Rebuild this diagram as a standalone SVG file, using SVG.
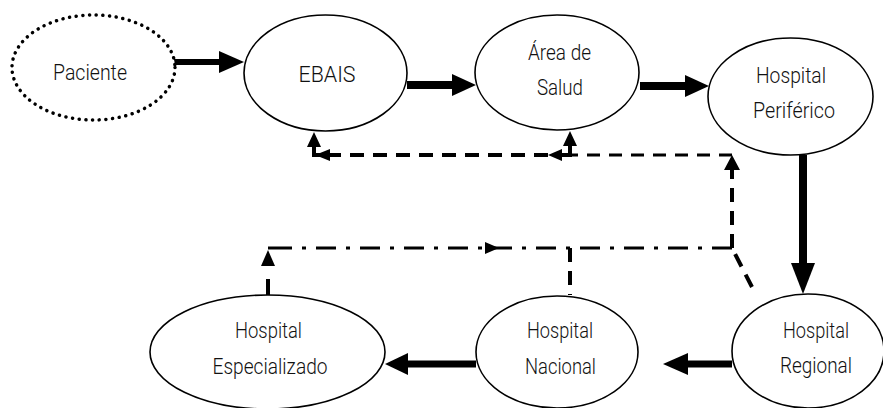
<svg xmlns="http://www.w3.org/2000/svg" width="883" height="408" viewBox="0 0 883 408">
<style>
.n{fill:#fff;stroke:#000;stroke-width:1.6}
.dot{fill:#fff;stroke:#000;stroke-width:3.5;stroke-dasharray:0.1 6.6;stroke-linecap:round}
.t{font-family:Roboto,"Liberation Sans",Arial,sans-serif;font-weight:300;font-size:22.5px;fill:#111;text-anchor:middle}
.thick{stroke:#000;fill:none}
.dash{stroke:#000;fill:none;stroke-width:4;stroke-dasharray:14 9}
.dashthin{stroke:#000;fill:none;stroke-width:3;stroke-dasharray:13 9}
.dd{stroke:#000;fill:none;stroke-width:3;stroke-dasharray:20 10 4 10}
.h{fill:#000}
</style>
<rect width="883" height="408" fill="#fff"/>
<g id="connectors">
  <line class="thick" x1="174" y1="62" x2="221" y2="62" stroke-width="6"/>
  <polygon class="h" points="219,51 244,62 219,73"/>
  <line class="thick" x1="407" y1="85" x2="454" y2="85" stroke-width="8"/>
  <polygon class="h" points="452,74 476,85 452,96"/>
  <line class="thick" x1="640" y1="86" x2="687" y2="86" stroke-width="8"/>
  <polygon class="h" points="685,75 709,86 685,97"/>
  <line class="thick" x1="803" y1="155" x2="803" y2="265" stroke-width="8"/>
  <polygon class="h" points="791,263 803,294 815,263"/>
  <line class="thick" x1="732" y1="364" x2="686" y2="364" stroke-width="7"/>
  <polygon class="h" points="688,353 663,364 688,375"/>
  <line class="thick" x1="476" y1="364" x2="405" y2="364" stroke-width="7"/>
  <polygon class="h" points="408,353 385,364 408,375"/>
  <path class="dash" d="M752,287 L732,248"/>
  <path class="dash" d="M732,248 V170" stroke-dasharray="15 8"/>
  <polygon class="h" points="724,170 732,155 740,170"/>
  <path class="dashthin" d="M732,155 H562"/>
  <polygon class="h" points="562,149 548,155 562,161"/>
  <path d="M562,155 H570 V146" stroke="#000" stroke-width="4" fill="none"/>
  <polygon class="h" points="563,146 570,131 577,146"/>
  <path class="dash" d="M548,155 H330" stroke-dasharray="15 9"/>
  <polygon class="h" points="330,149 315,155 330,161"/>
  <path d="M330,155 H314 V147" stroke="#000" stroke-width="4" fill="none"/>
  <polygon class="h" points="307,147 314,132 321,147"/>
  <path class="dash" d="M570,248 V295" stroke-dasharray="15 13"/>
  <path class="dd" d="M732,248 H270"/>
  <polygon class="h" points="485,242 499,248 485,254"/>
  <path d="M268,248 H272" stroke="#000" stroke-width="3"/>
  <polygon class="h" points="261,266 268,250 275,266"/>
  <line x1="268" y1="279" x2="268" y2="296" stroke="#000" stroke-width="4"/>
</g>
<g id="paciente">
  <ellipse class="dot" cx="93.5" cy="67.5" rx="81.5" ry="52.5"/>
  <text class="t" x="90" y="80" textLength="74" lengthAdjust="spacingAndGlyphs">Paciente</text>
</g>
<g id="ebais">
  <ellipse class="n" cx="325.5" cy="73" rx="81.5" ry="58"/>
  <text class="t" x="327" y="82" textLength="57" lengthAdjust="spacingAndGlyphs">EBAIS</text>
</g>
<g id="area-salud">
  <ellipse class="n" cx="557" cy="72.5" rx="82" ry="57.5"/>
  <text class="t" x="559.5" y="60" textLength="63" lengthAdjust="spacingAndGlyphs">Área de</text>
  <text class="t" x="560" y="95" textLength="46" lengthAdjust="spacingAndGlyphs">Salud</text>
</g>
<g id="hospital-periferico">
  <ellipse class="n" cx="790.5" cy="96.5" rx="82.5" ry="58.5"/>
  <text class="t" x="791" y="83" textLength="70" lengthAdjust="spacingAndGlyphs">Hospital</text>
  <text class="t" x="794" y="118" textLength="82" lengthAdjust="spacingAndGlyphs">Periférico</text>
</g>
<g id="hospital-regional">
  <ellipse class="n" cx="808" cy="351" rx="76" ry="57"/>
  <text class="t" x="816" y="338" textLength="66" lengthAdjust="spacingAndGlyphs">Hospital</text>
  <text class="t" x="816" y="373" textLength="72" lengthAdjust="spacingAndGlyphs">Regional</text>
</g>
<g id="hospital-nacional">
  <ellipse class="n" cx="557" cy="352" rx="81" ry="56"/>
  <text class="t" x="560" y="338" textLength="66" lengthAdjust="spacingAndGlyphs">Hospital</text>
  <text class="t" x="560.5" y="374" textLength="71" lengthAdjust="spacingAndGlyphs">Nacional</text>
</g>
<g id="hospital-especializado">
  <ellipse class="n" cx="267.5" cy="352" rx="117.5" ry="57"/>
  <text class="t" x="268.5" y="338" textLength="67" lengthAdjust="spacingAndGlyphs">Hospital</text>
  <text class="t" x="270" y="374" textLength="115" lengthAdjust="spacingAndGlyphs">Especializado</text>
</g>
</svg>
